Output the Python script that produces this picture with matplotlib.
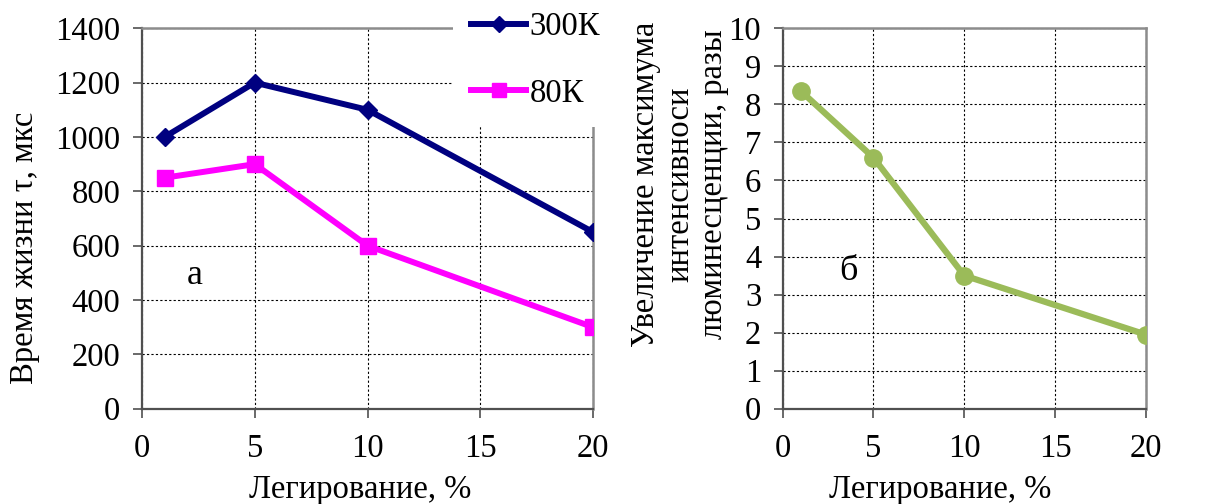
import matplotlib
matplotlib.use("Agg")
import matplotlib.pyplot as plt

plt.rcParams['font.family'] = ['Liberation Serif', 'DejaVu Serif']

# Data
doping = [1, 5, 10, 20]
tau_300K = [1000, 1200, 1100, 650]
tau_80K = [850, 900, 600, 300]
gain = [8.35, 6.6, 3.5, 1.95]

x_ticks = [0, 5, 10, 15, 20]
tau_ticks = [0, 200, 400, 600, 800, 1000, 1200, 1400]
gain_ticks = list(range(0, 11))

label_300 = "300К"
label_80 = "80К"
xlabel = "Легирование, %"
ylabel_tau = "Время жизни τ, мкс"
ylabel_gain = "Увеличение максимума\nинтенсивноси\nлюминесценции, разы"

FS = 23.5
W, H = 1232, 504
fig = plt.figure(figsize=(W / 100, H / 100), dpi=100)

ax1 = fig.add_axes([142 / W, 1 - 408.7 / H, (593 - 142) / W, (408.7 - 28.3) / H])
ax2 = fig.add_axes([782.7 / W, 1 - 408.7 / H, (1145.7 - 782.7) / W, (408.7 - 28.3) / H])


def style_axes(ax, yticks):
    ax.set_xlim(0, 20)
    ax.set_xticks(x_ticks)
    ax.set_ylim(yticks[0], yticks[-1])
    ax.set_yticks(yticks)
    ax.grid(True, color='black', linestyle=(0, (2, 2)), linewidth=0.8)
    ax.set_axisbelow(True)
    for side in ('left', 'bottom'):
        ax.spines[side].set_color('#505050')
        ax.spines[side].set_linewidth(1.6)
    for side in ('top', 'right'):
        ax.spines[side].set_color('#8c8c8c')
        ax.spines[side].set_linewidth(1.8)
    ax.tick_params(axis='both', direction='out', length=6.5, width=1.2,
                   color='#505050', labelsize=FS)
    ax.tick_params(axis='y', pad=9)
    ax.tick_params(axis='x', pad=11)


style_axes(ax1, tau_ticks)
style_axes(ax2, gain_ticks)

ax1.plot(doping, tau_300K, color='#000080', linewidth=4.3, marker='D',
         markersize=9, label=label_300, solid_joinstyle='round', zorder=3)
ax1.plot(doping, tau_80K, color='#FF00FF', linewidth=4.3, marker='s',
         markersize=12, label=label_80, solid_joinstyle='round', zorder=3)

ax2.plot(doping, gain, color='#9BBB59', linewidth=4.5, marker='o',
         markersize=12.5, solid_joinstyle='round', zorder=3)

ax1.text(2.35, 490, "а", fontsize=26, ha='center', va='center')
ax2.text(3.6, 3.6, "б", fontsize=26, ha='center', va='center')

ax1.set_xlabel(xlabel, fontsize=FS)
ax1.xaxis.set_label_coords((360 - 142) / (593 - 142), -(490 - 408.7) / 380.4)
ax2.set_xlabel(xlabel, fontsize=FS)
ax2.xaxis.set_label_coords((940 - 782.7) / (1145.7 - 782.7), -(490 - 408.7) / 380.4)
ax1.xaxis.label.set_va('center')
ax2.xaxis.label.set_va('center')

fig.text(25 / W, 1 - 248 / H, ylabel_tau, rotation=90, fontsize=FS,
         ha='center', va='center')
fig.text(680 / W, 1 - 184 / H, ylabel_gain, rotation=90, fontsize=FS,
         ha='center', va='center', multialignment='center', linespacing=1.15)

leg = ax1.legend(loc='upper left', bbox_to_anchor=(453 / W, 1 + 6 / H),
                 bbox_transform=fig.transFigure, borderaxespad=0,
                 borderpad=0.55, fontsize=FS, frameon=True, fancybox=False,
                 edgecolor='none', facecolor='white', framealpha=1,
                 handlelength=1.7, handletextpad=0.1, labelspacing=1.1,
                 numpoints=1, markerscale=0.85)

fig.savefig("out.png", dpi=100)
